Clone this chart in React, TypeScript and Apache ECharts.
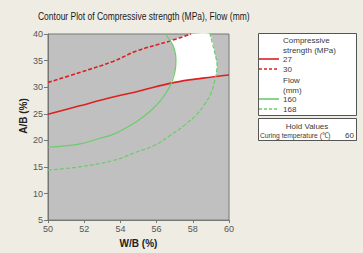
import React, { useEffect, useRef } from "react";
import * as echarts from "echarts";

// Axis ranges / ticks
const xRange = [50, 60];
const yRange = [5, 40];
const xTickStep = 2;
const yTickStep = 5;

// Contour lines: [W/B, A/B]
const strength27: number[][] = [
  [50, 24.9], [51.7, 26.45], [53.6, 28.15], [55, 29.25], [57, 30.9], [58.55, 31.7], [60, 32.3],
];
const strength30: number[][] = [
  [50, 30.9], [51.7, 32.7], [53.6, 34.85], [54.9, 36.8], [56.7, 38.65], [57.9, 40],
];
const flow160: number[][] = [
  [50, 18.7], [51.71, 19.29], [52.87, 20.39], [53.59, 21.13], [54.25, 22.22], [54.92, 23.6],
  [55.64, 25.47], [56.19, 27.36], [56.57, 29.19], [56.85, 31.02], [57.04, 33.4], [57.07, 35.24],
  [56.99, 37.07], [56.83, 38.3], [56.57, 39.63], [56.5, 40],
];
const flow168: number[][] = [
  [50, 14.4], [51.7, 15.0], [53.6, 16.2], [54.9, 17.8], [55.91, 19.11], [56.7, 20.8],
  [57.51, 22.77], [58.2, 24.8], [58.62, 26.62], [59, 28.8], [59.17, 30.65], [59.32, 33],
  [59.34, 34.32], [59.28, 35.5], [58.95, 40],
];
// Feasible (white) region boundary
const feasible: number[][] = [
  [56.7, 38.65], [57.9, 40], [58.95, 40], [59.28, 35.5], [59.34, 34.3], [59.32, 33], [59.24, 31.9],
  [58.55, 31.7], [57.6, 31.2], [56.82, 30.85], [57.04, 33.4], [57.07, 35.24], [56.99, 37.07],
  [56.83, 38.3],
];

const titleText = "Contour Plot of Compressive strength (MPa), Flow (mm)";
const xName = "W/B (%)";
const yName = "A/B (%)";
const legendHead1 = ["Compressive", "strength (MPa)"];
const legendStrength = ["27", "30"];
const legendHead2 = ["Flow", "(mm)"];
const legendFlow = ["160", "168"];
const holdTitle = "Hold Values";
const holdName = "Curing temperature (℃)";
const holdValue = "60";

const RED = "#dd2020";
const GREEN = "#6ccc6c";
const FONT = "'Liberation Sans', Arial, sans-serif";

function measure(text: string, font: string): number {
  const c = document.createElement("canvas").getContext("2d");
  if (!c) return text.length * 5;
  c.font = font;
  return c.measureText(text).width;
}

export default function App() {
  const ref = useRef<HTMLDivElement>(null);
  useEffect(() => {
    if (!ref.current) return;
    const chart = echarts.init(ref.current, undefined, { renderer: "svg" });
    const titleFont = `11px ${FONT}`;
    const titleScale = 212 / measure(titleText, titleFont);
    const legFont = `8px ${FONT}`;
    const holdScale = Math.min(1, 71 / measure(holdName, legFont));
    const lineSeries = (name: string, data: number[][], color: string, width: number, type: any) => ({
      type: "line",
      name,
      data,
      smooth: 0.4,
      showSymbol: false,
      symbol: "none",
      clip: true,
      lineStyle: { color, width, type },
      z: 3,
    });
    const legTxt = (text: string, x: number, y: number, extra: any = {}, scaleX = 1) => ({
      type: "text",
      x,
      y,
      scaleX,
      style: { text, fill: "#3a3a3a", font: legFont, textVerticalAlign: "middle", ...extra },
    });
    const legLine = (y: number, color: string, dash: any) => ({
      type: "line",
      shape: { x1: 259, y1: y, x2: 279, y2: y },
      style: { stroke: color, lineWidth: 1.6, lineDash: dash },
    });
    chart.setOption({
      animation: false,
      backgroundColor: "#efece3",
      grid: {
        left: 48,
        right: 134,
        top: 34,
        bottom: 28,
        show: true,
        backgroundColor: "#c0c0c0",
        borderColor: "#767676",
        borderWidth: 1,
      },
      xAxis: {
        type: "value",
        min: xRange[0],
        max: xRange[1],
        interval: xTickStep,
        name: xName,
        nameLocation: "middle",
        nameGap: 15,
        nameTextStyle: { fontSize: 10, fontWeight: "bold", color: "#222", fontFamily: FONT },
        axisLine: { show: true, lineStyle: { color: "#767676" } },
        axisTick: { show: true, length: 3, lineStyle: { color: "#767676" } },
        axisLabel: { fontSize: 9, color: "#555", margin: 4, fontFamily: FONT },
        splitLine: { show: false },
      },
      yAxis: {
        type: "value",
        min: yRange[0],
        max: yRange[1],
        interval: yTickStep,
        axisLine: { show: true, lineStyle: { color: "#767676" } },
        axisTick: { show: true, length: 4, lineStyle: { color: "#767676" } },
        axisLabel: { fontSize: 9, color: "#555", margin: 5, fontFamily: FONT },
        splitLine: { show: false },
      },
      series: [
        {
          type: "custom",
          coordinateSystem: "cartesian2d",
          data: [[feasible[0][0], feasible[0][1]]],
          silent: true,
          z: 1,
          renderItem: (_p: any, api: any) => ({
            type: "polygon",
            shape: { points: feasible.map((p) => api.coord(p)), smooth: 0.15 },
            style: { fill: "#ffffff", stroke: "none" },
          }),
        },
        lineSeries("27", strength27, RED, 1.6, "solid"),
        lineSeries("30", strength30, RED, 1.6, [4, 2]),
        lineSeries("160", flow160, GREEN, 1.2, "solid"),
        lineSeries("168", flow168, GREEN, 1.2, [4, 2]),
      ],
      graphic: [
        {
          type: "text",
          x: 38,
          y: 16,
          scaleX: titleScale,
          style: { text: titleText, fill: "#1a1a1a", font: titleFont, textVerticalAlign: "middle" },
        },
        {
          type: "text",
          x: 23,
          y: 116,
          rotation: Math.PI / 2,
          style: {
            text: yName,
            fill: "#222",
            font: `bold 10px ${FONT}`,
            textAlign: "center",
            textVerticalAlign: "middle",
          },
        },
        {
          type: "rect",
          shape: { x: 258.5, y: 33.5, width: 98, height: 82 },
          style: { fill: "#ffffff", stroke: "#555", lineWidth: 1 },
        },
        legTxt(legendHead1[0], 283, 40),
        legTxt(legendHead1[1], 283, 50),
        legLine(59, RED, null),
        legTxt(legendStrength[0], 283, 59),
        legLine(69, RED, [3, 2]),
        legTxt(legendStrength[1], 283, 69),
        legTxt(legendHead2[0], 283, 80),
        legTxt(legendHead2[1], 283, 90),
        legLine(99, GREEN, null),
        legTxt(legendFlow[0], 283, 99),
        legLine(109, GREEN, [3, 2]),
        legTxt(legendFlow[1], 283, 109),
        {
          type: "rect",
          shape: { x: 258.5, y: 118.5, width: 98, height: 22 },
          style: { fill: "#ffffff", stroke: "#555", lineWidth: 1 },
        },
        legTxt(holdTitle, 307, 126, { textAlign: "center" }),
        legTxt(holdName, 260, 135, {}, holdScale),
        legTxt(holdValue, 354, 135, { textAlign: "right" }),
      ],
    });
    return () => chart.dispose();
  }, []);
  return (
    <div
      ref={ref}
      style={{ position: "fixed", left: 0, top: 0, width: 363, height: 253 }}
    />
  );
}
